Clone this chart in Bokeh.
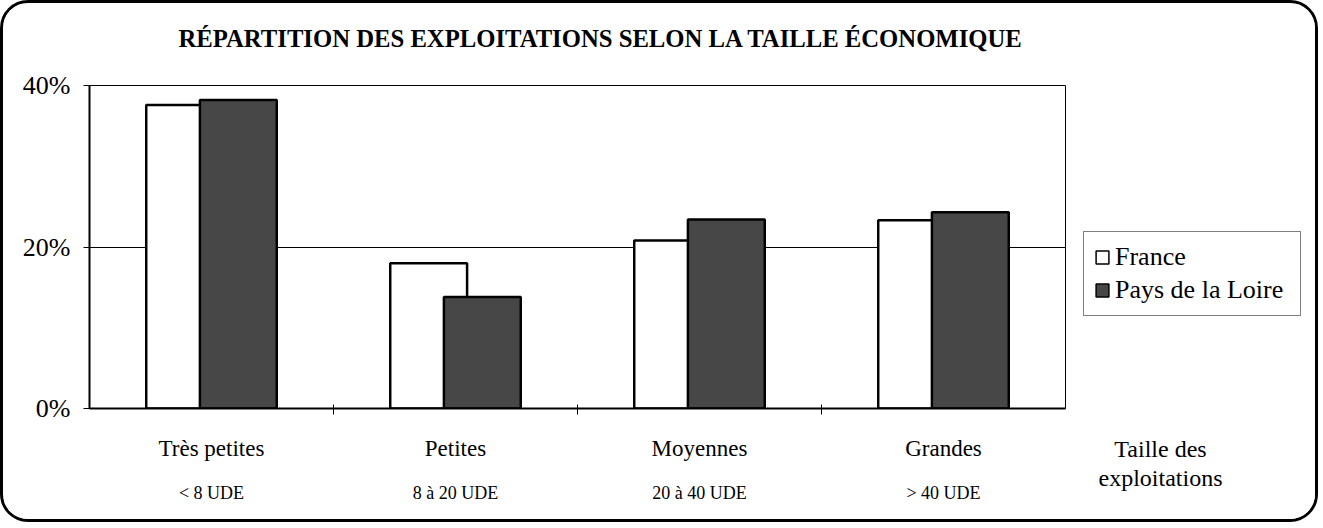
from bokeh.plotting import figure
from bokeh.layouts import row
from bokeh.models import (Range1d, FixedTicker, LinearAxis, Title,
                          ColumnDataSource, Legend)
from bokeh.embed import file_html
from bokeh.resources import INLINE

# ---- data ----
categories = ["Très petites", "Petites", "Moyennes", "Grandes"]
sublabels = ["< 8 UDE", "8 à 20 UDE", "20 à 40 UDE", "> 40 UDE"]
france = [37.6, 18.0, 20.8, 23.3]
pays_loire = [38.2, 13.8, 23.4, 24.3]
series_names = ["France", "Pays de la Loire"]
y_ticks = [0, 20, 40]
y_tick_labels = ["0%", "20%", "40%"]
title_text = "RÉPARTITION DES EXPLOITATIONS SELON LA TAILLE ÉCONOMIQUE"
axis_note = ["Taille des", "exploitations"]

FONT = "Liberation Serif"
FRANCE_FILL = "white"
PAYS_FILL = "#474747"
idx = list(range(len(categories)))

src = ColumnDataSource(dict(
    xf=[i - 0.11 for i in idx],
    xp=[i + 0.11 for i in idx],
    france=france,
    pays=pays_loire,
))

H = 516
p = figure(width=1070, height=H, output_backend="svg", toolbar_location=None,
           x_range=Range1d(-0.5, 3.5), y_range=Range1d(0, 40),
           min_border_left=86, min_border_right=8, min_border_top=82,
           min_border_bottom=111, background_fill_color="white",
           border_fill_color="white")

p.vbar(x="xf", top="france", width=0.315, source=src, fill_color=FRANCE_FILL,
       line_color="black", line_width=2.5)
p.vbar(x="xp", top="pays", width=0.315, source=src, fill_color=PAYS_FILL,
       line_color="black", line_width=2.5)

# title
p.title = Title(text=title_text, align="left", offset=89, standoff=10,
                padding=dict(left=0, right=0, top=0, bottom=29),
                text_font=FONT, text_font_style="bold", text_font_size="24.7px",
                text_color="black")

# frame outline
p.outline_line_color = "black"
p.outline_line_width = 1

# grids
p.xgrid.visible = False
p.ygrid.ticker = FixedTicker(ticks=[20])
p.ygrid.grid_line_color = "black"
p.ygrid.grid_line_width = 1

# y axis
ya = p.yaxis[0]
ya.ticker = FixedTicker(ticks=y_ticks)
ya.major_label_overrides = {t: l for t, l in zip(y_ticks, y_tick_labels)}
ya.major_label_text_font = FONT
ya.major_label_text_font_size = "26px"
ya.major_label_text_color = "black"
ya.major_label_standoff = 13
ya.major_tick_out = 6
ya.major_tick_in = 0
ya.minor_tick_line_color = None
ya.axis_line_width = 2
ya.axis_line_color = "black"
ya.major_tick_line_color = "black"

# x axis (category names)
xa = p.xaxis[0]
xa.ticker = FixedTicker(ticks=idx, minor_ticks=[0.5, 1.5, 2.5])
xa.major_label_overrides = {i: c for i, c in zip(idx, categories)}
xa.major_label_text_font = FONT
xa.major_label_text_font_size = "23px"
xa.major_label_text_color = "black"
xa.major_tick_line_color = None
xa.major_tick_out = 6
xa.major_tick_in = 0
xa.minor_tick_line_color = "black"
xa.minor_tick_out = 6
xa.minor_tick_in = 4
xa.major_label_standoff = 21
xa.axis_line_width = 2
xa.axis_line_color = "black"

# second x axis (UDE ranges)
xa2 = LinearAxis(ticker=FixedTicker(ticks=idx),
                 major_label_overrides={i: s for i, s in zip(idx, sublabels)})
xa2.axis_line_color = None
xa2.major_tick_line_color = None
xa2.minor_tick_line_color = None
xa2.major_tick_out = 0
xa2.major_tick_in = 0
xa2.major_label_text_font = FONT
xa2.major_label_text_font_size = "18px"
xa2.major_label_text_color = "black"
xa2.major_label_standoff = 19
p.add_layout(xa2, "below")

# ---- right-hand panel: legend + axis title ----
RW = 242
NOTE_X = 87
p2 = figure(width=RW, height=H, output_backend="svg", toolbar_location=None,
            x_range=Range1d(0, RW), y_range=Range1d(0, 40),
            x_axis_type=None, y_axis_type=None, min_border_left=0,
            min_border_right=0, min_border_top=82, min_border_bottom=111,
            background_fill_color="white", border_fill_color="white")
p2.outline_line_color = None
p2.grid.visible = False

# hidden copies of the two series, used only for the legend swatches
lr1 = p2.vbar(x="xf", top="france", width=0.315, source=src,
              fill_color=FRANCE_FILL, line_color="black", line_width=1.5,
              visible=False)
lr2 = p2.vbar(x="xp", top="pays", width=0.315, source=src,
              fill_color=PAYS_FILL, line_color="black", line_width=1.5,
              visible=False)

legend = Legend(items=[(series_names[0], [lr1]), (series_names[1], [lr2])],
                location=(10, 92), orientation="vertical")
legend.label_text_font = FONT
legend.label_text_font_size = "26px"
legend.label_text_color = "black"
legend.glyph_width = 16
legend.glyph_height = 16
legend.label_standoff = 5
legend.label_width = 175
legend.padding = 10
legend.spacing = 3
legend.margin = 0
legend.border_line_color = "black"
legend.border_line_width = 1
legend.background_fill_color = "white"
legend.background_fill_alpha = 1
p2.add_layout(legend, "center")

for k, (txt, so, tout) in enumerate(zip(axis_note, [21, 0], [6, 0])):
    ax = LinearAxis(ticker=FixedTicker(ticks=[NOTE_X]),
                    major_label_overrides={NOTE_X: txt})
    ax.axis_line_color = None
    ax.major_tick_line_color = None
    ax.minor_tick_line_color = None
    ax.major_tick_out = tout
    ax.major_tick_in = 0
    ax.major_label_text_font = FONT
    ax.major_label_text_font_size = "24px"
    ax.major_label_text_color = "black"
    ax.major_label_standoff = so
    p2.add_layout(ax, "below")

lay = row(p, p2, spacing=0)
lay.styles = {"border": "3px solid black", "border-radius": "28px",
              "overflow": "hidden"}

open("out.html", "w").write(file_html(lay, INLINE))
